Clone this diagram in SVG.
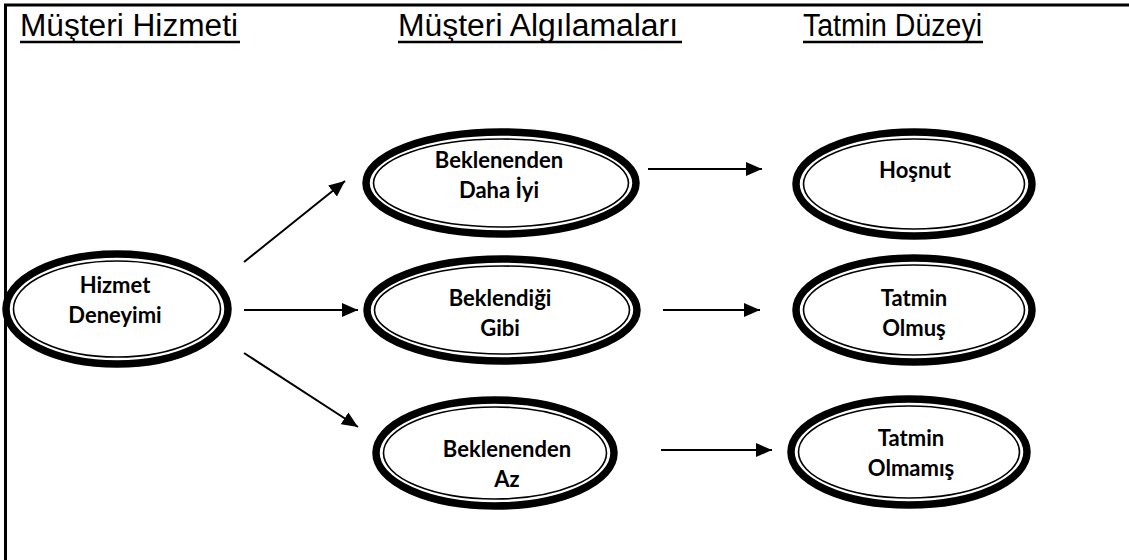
<svg xmlns="http://www.w3.org/2000/svg" width="1129" height="560" viewBox="0 0 1129 560">
  <style>
    .frame { stroke: #000; stroke-width: 3; fill: none; }
    .head { font-family: "Liberation Sans", Arial, sans-serif; font-size: 31px; fill: #000; }
    .uline { stroke: #000; stroke-width: 2.5; }
    .outer { fill: #fff; stroke: #000; stroke-width: 7.5; }
    .inner { fill: none; stroke: #000; stroke-width: 1.6; }
    .lbl { font-family: "Lato", "Open Sans", sans-serif; font-weight: bold; font-size: 22px; fill: #000; text-anchor: middle; }
    .conn { stroke: #000; stroke-width: 2; fill: none; marker-end: url(#arrow); }
  </style>
  <defs>
    <marker id="arrow" markerWidth="16" markerHeight="14" refX="16" refY="7" orient="auto" markerUnits="userSpaceOnUse">
      <path d="M0,0 L16,7 L0,14 Z" fill="#000"/>
    </marker>
  </defs>
  <rect width="1129" height="560" fill="#fff"/>

  <!-- outer frame: top and left edges -->
  <path class="frame" d="M1129,5 L5.5,5 L5.5,560"/>

  <!-- column headings -->
  <g id="headings">
    <text class="head" x="20" y="36" textLength="218" lengthAdjust="spacingAndGlyphs">Müşteri Hizmeti</text>
    <line class="uline" x1="20" y1="42" x2="240" y2="42"/>
    <text class="head" x="398" y="36" textLength="280" lengthAdjust="spacingAndGlyphs">Müşteri Algılamaları</text>
    <line class="uline" x1="398" y1="42" x2="682" y2="42"/>
    <text class="head" x="803" y="36" textLength="179" lengthAdjust="spacingAndGlyphs">Tatmin Düzeyi</text>
    <line class="uline" x1="803" y1="42" x2="983" y2="42"/>
  </g>

  <!-- connectors -->
  <g id="connectors">
    <line class="conn" x1="244" y1="262" x2="345" y2="181"/>
    <line class="conn" x1="244" y1="310" x2="358" y2="310"/>
    <line class="conn" x1="244" y1="353" x2="358" y2="427"/>
    <line class="conn" x1="648" y1="169" x2="762" y2="169"/>
    <line class="conn" x1="663" y1="310" x2="760" y2="310"/>
    <line class="conn" x1="661" y1="450" x2="772" y2="450"/>
  </g>

  <g id="hizmet-deneyimi">
    <ellipse class="outer" cx="117" cy="309" rx="111" ry="55"/>
    <ellipse class="inner" cx="117" cy="309" rx="103.5" ry="48"/>
    <text class="lbl" x="115" y="293">Hizmet</text>
    <text class="lbl" x="115" y="323">Deneyimi</text>
  </g>

  <g id="beklenenden-daha-iyi">
    <ellipse class="outer" cx="501" cy="183" rx="135" ry="51"/>
    <ellipse class="inner" cx="501" cy="183" rx="127.5" ry="44"/>
    <text class="lbl" x="499" y="168">Beklenenden</text>
    <text class="lbl" x="499" y="198">Daha İyi</text>
  </g>

  <g id="beklendigi-gibi">
    <ellipse class="outer" cx="502" cy="310" rx="135" ry="51"/>
    <ellipse class="inner" cx="502" cy="310" rx="127.5" ry="44"/>
    <text class="lbl" x="500" y="306">Beklendiği</text>
    <text class="lbl" x="500" y="336">Gibi</text>
  </g>

  <g id="beklenenden-az">
    <ellipse class="outer" cx="495" cy="453" rx="119" ry="53"/>
    <ellipse class="inner" cx="495" cy="453" rx="111.5" ry="46"/>
    <text class="lbl" x="507" y="457">Beklenenden</text>
    <text class="lbl" x="507" y="487">Az</text>
  </g>

  <g id="hosnut">
    <ellipse class="outer" cx="914" cy="184" rx="118" ry="52"/>
    <ellipse class="inner" cx="914" cy="184" rx="110.5" ry="45"/>
    <text class="lbl" x="915" y="178">Hoşnut</text>
  </g>

  <g id="tatmin-olmus">
    <ellipse class="outer" cx="914" cy="310" rx="118" ry="52"/>
    <ellipse class="inner" cx="914" cy="310" rx="110.5" ry="45"/>
    <text class="lbl" x="914" y="306">Tatmin</text>
    <text class="lbl" x="914" y="336">Olmuş</text>
  </g>

  <g id="tatmin-olmamis">
    <ellipse class="outer" cx="909" cy="452" rx="118" ry="53"/>
    <ellipse class="inner" cx="909" cy="452" rx="110.5" ry="46"/>
    <text class="lbl" x="911" y="446">Tatmin</text>
    <text class="lbl" x="911" y="476">Olmamış</text>
  </g>
</svg>
